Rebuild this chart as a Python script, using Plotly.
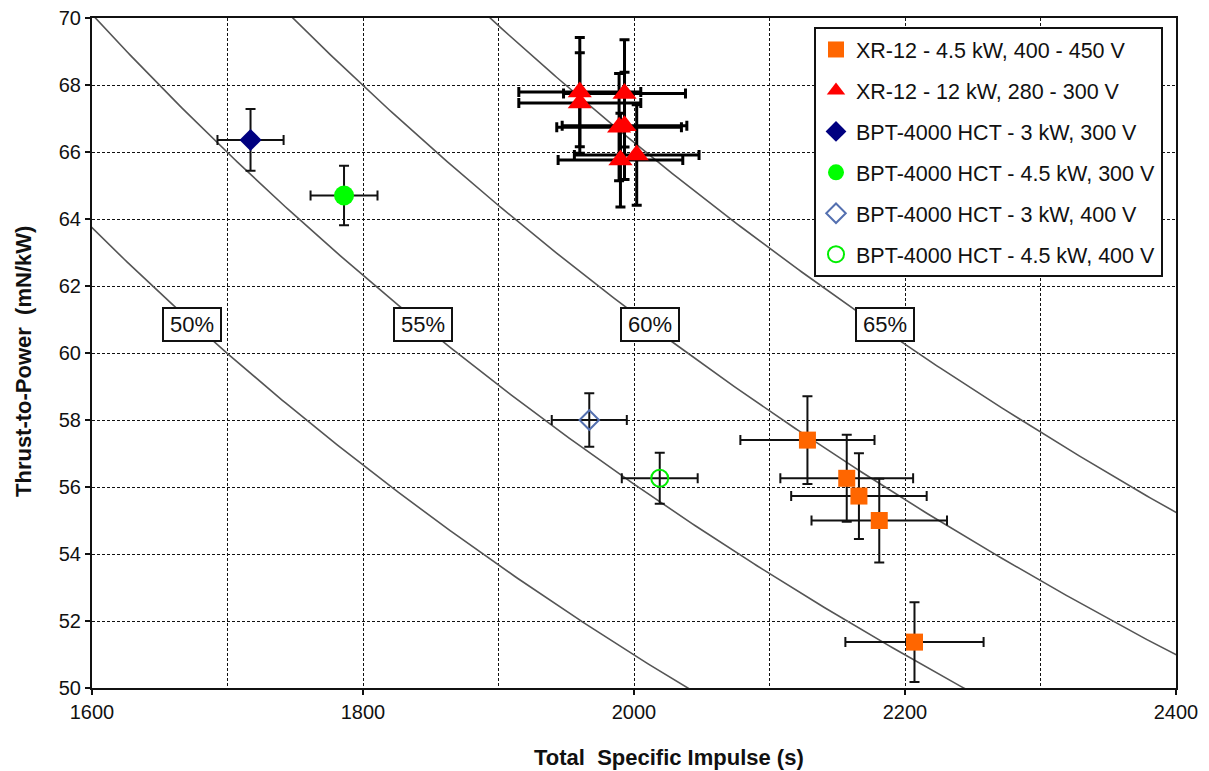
import numpy as np
import plotly.graph_objects as go

# ---- data ----
xr12_45_isp = [2128, 2157, 2166, 2181, 2207]
xr12_45_tp = [57.40, 56.26, 55.73, 55.00, 51.37]
xr12_45_isp_err = [49.5, 49, 50, 50, 51]
xr12_45_tp_err = [1.31, 1.30, 1.28, 1.25, 1.19]

xr12_12_isp = [1960, 1960, 1993, 1989, 1993, 1990, 2002]
xr12_12_tp = [67.79, 67.46, 67.75, 66.74, 66.78, 65.76, 65.91]
xr12_12_isp_err = [45, 45, 45, 46, 46, 46, 46]
xr12_12_tp_err = [1.63, 1.50, 1.60, 1.60, 1.60, 1.40, 1.50]

bpt_3_300_isp = [1717]
bpt_3_300_tp = [66.36]
bpt_3_300_isp_err = [24.4]
bpt_3_300_tp_err = [0.92]

bpt_45_300_isp = [1786]
bpt_45_300_tp = [64.70]
bpt_45_300_isp_err = [24.7]
bpt_45_300_tp_err = [0.89]

bpt_3_400_isp = [1967]
bpt_3_400_tp = [58.00]
bpt_3_400_isp_err = [27.7]
bpt_3_400_tp_err = [0.80]

bpt_45_400_isp = [2019]
bpt_45_400_tp = [56.26]
bpt_45_400_isp_err = [28]
bpt_45_400_tp_err = [0.76]

# iso-efficiency reference lines: T/P = 2*eta/(g0*Isp)
efficiencies = [0.50, 0.55, 0.60, 0.65]
eff_labels = ["50%", "55%", "60%", "65%"]
eff_label_isp = [1674, 1844, 2012, 2185]
eff_label_tp = [60.85, 60.85, 60.85, 60.85]
g0 = 9.80665

x_ticks = [1600, 1800, 2000, 2200, 2400]
y_ticks = [50, 52, 54, 56, 58, 60, 62, 64, 66, 68, 70]

FONT = "Liberation Sans, Arial, sans-serif"

# page body has an 8px margin: size/offset the figure so the plot lands
# where the reference has it
W, H = 1201, 763
ML, MR, MT, MB = 84, 33, 10, 83
PW, PH = W - ML - MR, H - MT - MB

fig = go.Figure()

isp_grid = np.linspace(1500, 2450, 400)
for eta in efficiencies:
    fig.add_trace(go.Scatter(
        x=isp_grid, y=2 * eta / (g0 * isp_grid) * 1e6,
        mode="lines", line=dict(color="#555555", width=1.6),
        showlegend=False, hoverinfo="skip"))


def add_series(name, xs, ys, xe, ye, symbol, color, size, open_=False,
               ewidth=2.0, ecolor="#111111"):
    if open_:
        marker = dict(symbol=symbol, size=size, color="rgba(0,0,0,0)",
                      line=dict(color=color, width=2))
    else:
        marker = dict(symbol=symbol, size=size, color=color,
                      line=dict(width=0))
    fig.add_trace(go.Scatter(
        x=xs, y=ys, mode="markers", name=name, marker=marker,
        legendgroup=name,
        error_x=dict(type="data", array=xe, visible=True, color=ecolor,
                     thickness=ewidth, width=5),
        error_y=dict(type="data", array=ye, visible=True, color=ecolor,
                     thickness=ewidth, width=5)))


add_series("XR-12 - 4.5 kW, 400 - 450 V", xr12_45_isp, xr12_45_tp,
           xr12_45_isp_err, xr12_45_tp_err, "square", "#FF6600", 17)
add_series("XR-12 - 12 kW, 280 - 300 V", xr12_12_isp, xr12_12_tp,
           xr12_12_isp_err, xr12_12_tp_err, "triangle-up", "#FF0000", 21,
           ewidth=3.0, ecolor="#000000")
add_series("BPT-4000 HCT - 3 kW, 300 V", bpt_3_300_isp, bpt_3_300_tp,
           bpt_3_300_isp_err, bpt_3_300_tp_err, "diamond", "#000080", 17)
add_series("BPT-4000 HCT - 4.5 kW, 300 V", bpt_45_300_isp, bpt_45_300_tp,
           bpt_45_300_isp_err, bpt_45_300_tp_err, "circle", "#00FF00", 20)
add_series("BPT-4000 HCT - 3 kW, 400 V", bpt_3_400_isp, bpt_3_400_tp,
           bpt_3_400_isp_err, bpt_3_400_tp_err, "diamond", "#5470B0", 15,
           open_=True)
add_series("BPT-4000 HCT - 4.5 kW, 400 V", bpt_45_400_isp, bpt_45_400_tp,
           bpt_45_400_isp_err, bpt_45_400_tp_err, "circle", "#00EE00", 17,
           open_=True)

for lab, lx, ly in zip(eff_labels, eff_label_isp, eff_label_tp):
    fig.add_annotation(x=lx, y=ly, text=lab, showarrow=False,
                       font=dict(family=FONT, size=22, color="#111111"),
                       bgcolor="white", bordercolor="#111111", borderwidth=2,
                       borderpad=2, width=52, height=27)

axis_common = dict(
    showline=True, linecolor="#111111", linewidth=2, mirror=True,
    ticks="outside", ticklen=5, tickwidth=2, tickcolor="#111111",
    showgrid=True, gridcolor="#111111", gridwidth=1.3, griddash="3px,2px",
    zeroline=False, automargin=False, ticklabeloverflow="allow",
    tickfont=dict(family=FONT, size=20, color="#111111"),
)

fig.update_xaxes(range=[1600, 2400], tickvals=x_ticks,
                 minor=dict(dtick=100, showgrid=True, gridcolor="#111111",
                            gridwidth=1.3, griddash="3px,2px", ticks=""),
                 **axis_common)
fig.update_yaxes(range=[50, 70], tickvals=y_ticks, **axis_common)

# positions in reference pixels -> paper coords (plot left=92, top=18)
def px_x(p):
    return (p - 92) / PW


def px_y(p):
    return (688 - p) / PH


fig.add_annotation(xref="paper", yref="paper", x=px_x(669), y=px_y(757),
                   text="<b>Total  Specific Impulse (s)</b>", showarrow=False,
                   font=dict(family=FONT, size=22, color="#111111"),
                   xanchor="center", yanchor="middle")
fig.add_annotation(xref="paper", yref="paper", x=px_x(23), y=px_y(362),
                   text="<b>Thrust-to-Power  (mN/kW)</b>", showarrow=False,
                   textangle=-90,
                   font=dict(family=FONT, size=22, color="#111111"),
                   xanchor="center", yanchor="middle")

fig.update_layout(
    width=W, height=H,
    margin=dict(l=ML, r=MR, t=MT, b=MB, autoexpand=False),
    paper_bgcolor="white", plot_bgcolor="white",
    showlegend=True,
    legend=dict(x=px_x(814), y=px_y(27),
                xanchor="left", yanchor="top",
                bgcolor="white", bordercolor="#111111", borderwidth=2,
                font=dict(family=FONT, size=21.5, color="#111111"),
                tracegroupgap=10, itemsizing="trace"),
)

fig.write_html("out.html")
